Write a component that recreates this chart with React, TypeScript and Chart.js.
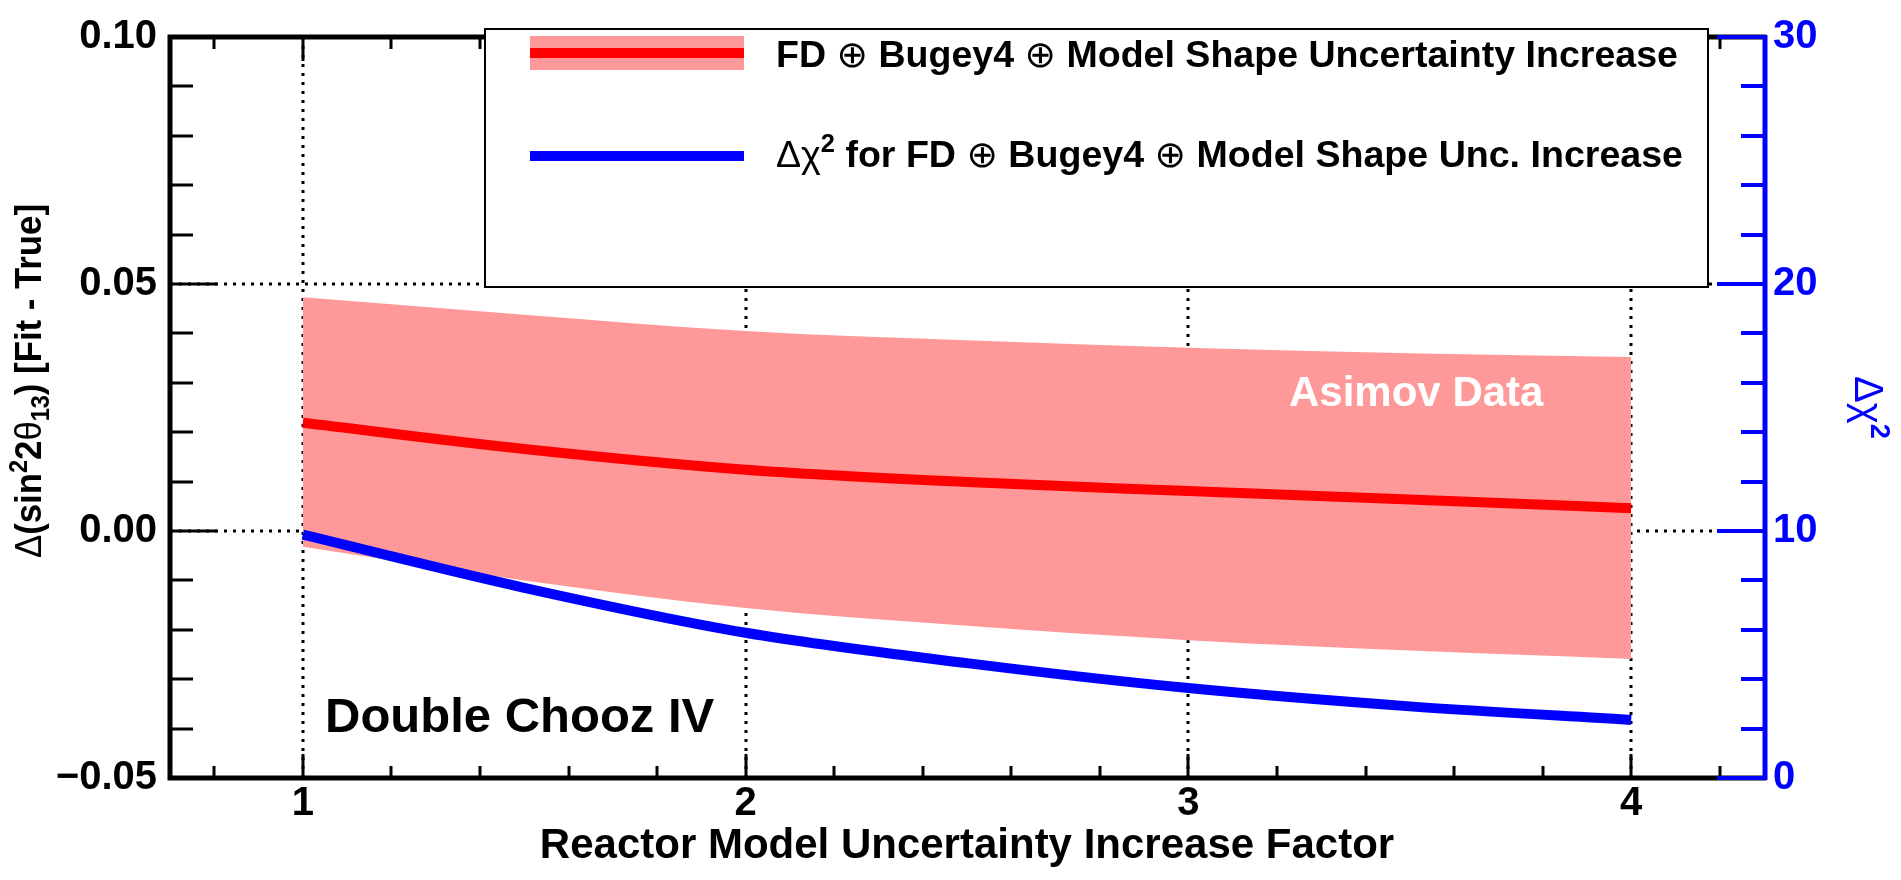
import React, { useEffect, useRef } from "react";
import { Chart, registerables } from "chart.js";

Chart.register(...registerables);

// Reactor model uncertainty increase factor (x) and fit results
const factor = [1, 1.5, 2, 2.5, 3, 3.5, 4];
const bestFitShift = [0.0219, 0.0166, 0.0124, 0.0099, 0.0081, 0.0064, 0.0046];
const bandUpper = [0.0473, 0.0438, 0.0405, 0.0386, 0.0371, 0.036, 0.0352];
const bandLower = [-0.0032, -0.01, -0.0156, -0.0192, -0.0221, -0.0242, -0.0259];
const deltaChi2 = [9.85, 7.7, 5.88, 4.65, 3.64, 2.9, 2.35];

// Axis ranges and labelled ticks
const xRange = [0.7, 4.3];
const xMajorTicks = [1, 2, 3, 4];
const yRange = [-0.05, 0.1];
const yMajorTicks = [-0.05, 0, 0.05, 0.1];
const y2Range = [0, 30];
const y2MajorTicks = [0, 10, 20, 30];

const xMinorStep = 0.2;
const yMinorStep = 0.01;
const y2MinorStep = 2;

const RED = "#ff0000";
const BAND = "rgb(255,153,153)";
const BLUE = "#0000ff";
const SANS = '"Liberation Sans", Arial, Helvetica, sans-serif';
const bold = (px: number) => `bold ${px}px ${SANS}`;
const reg = (px: number) => `${px}px ${SANS}`;
const sym = (px: number) => `${px}px "DejaVu Sans", ${SANS}`;

type Seg = { t: string; font: string; dy?: number };

function richWidth(ctx: CanvasRenderingContext2D, segs: Seg[]) {
  let w = 0;
  for (const s of segs) {
    ctx.font = s.font;
    w += ctx.measureText(s.t).width;
  }
  return w;
}

function drawRich(
  ctx: CanvasRenderingContext2D,
  segs: Seg[],
  x: number,
  y: number,
  color: string,
  rotation = 0,
  targetWidth?: number
) {
  const w = richWidth(ctx, segs);
  ctx.save();
  ctx.translate(x, y);
  if (rotation) ctx.rotate(rotation);
  if (targetWidth) ctx.scale(targetWidth / w, 1);
  ctx.fillStyle = color;
  ctx.textBaseline = "alphabetic";
  ctx.textAlign = "left";
  let cx = 0;
  for (const s of segs) {
    ctx.font = s.font;
    ctx.fillText(s.t, cx, s.dy || 0);
    cx += ctx.measureText(s.t).width;
  }
  ctx.restore();
}

function steps(min: number, max: number, step: number) {
  const out: number[] = [];
  const n = Math.round((max - min) / step);
  for (let i = 0; i <= n; i++) out.push(+(min + i * step).toFixed(6));
  return out;
}

const oplus = (px: number): Seg[] => [
  { t: " ", font: bold(px) },
  { t: "\u2295", font: sym(px) },
  { t: " ", font: bold(px) },
];

const rootStyle = {
  id: "rootStyle",
  beforeDatasetsDraw(chart: any) {
    const { ctx, chartArea: a, scales } = chart;
    const x = scales.x;
    const y = scales.y;
    ctx.save();
    ctx.strokeStyle = "#000";
    ctx.lineWidth = 3;
    ctx.setLineDash([3, 6]);
    for (const v of xMajorTicks) {
      const px = Math.round(x.getPixelForValue(v));
      ctx.beginPath();
      ctx.moveTo(px, a.top);
      ctx.lineTo(px, a.bottom);
      ctx.stroke();
    }
    for (const v of [0, 0.05]) {
      const py = Math.round(y.getPixelForValue(v));
      ctx.beginPath();
      ctx.moveTo(a.left, py);
      ctx.lineTo(a.right, py);
      ctx.stroke();
    }
    ctx.restore();
  },
  afterDatasetsDraw(chart: any) {
    const { ctx, chartArea: a, scales } = chart;
    const x = scales.x;
    const y = scales.y;
    const y2 = scales.y2;
    ctx.save();
    ctx.setLineDash([]);
    ctx.lineCap = "square";

    // frame
    ctx.strokeStyle = "#000";
    ctx.lineWidth = 5;
    ctx.beginPath();
    ctx.moveTo(a.right, a.top);
    ctx.lineTo(a.left, a.top);
    ctx.lineTo(a.left, a.bottom);
    ctx.lineTo(a.right, a.bottom);
    ctx.stroke();

    ctx.lineCap = "butt";
    // x ticks, bottom and top
    ctx.lineWidth = 3;
    for (const v of steps(0.8, 4.2, xMinorStep)) {
      const px = Math.round(x.getPixelForValue(v));
      const major = xMajorTicks.some((m) => Math.abs(m - v) < 1e-6);
      const len = major ? 24 : 12;
      ctx.beginPath();
      ctx.moveTo(px, a.bottom);
      ctx.lineTo(px, a.bottom - len);
      ctx.moveTo(px, a.top);
      ctx.lineTo(px, a.top + len);
      ctx.stroke();
    }
    // left y ticks
    for (const v of steps(yRange[0], yRange[1], yMinorStep)) {
      const py = Math.round(y.getPixelForValue(v));
      const major = yMajorTicks.some((m) => Math.abs(m - v) < 1e-6);
      const len = major ? 47 : 23;
      ctx.beginPath();
      ctx.moveTo(a.left, py);
      ctx.lineTo(a.left + len, py);
      ctx.stroke();
    }

    // right Δχ² axis
    ctx.strokeStyle = BLUE;
    ctx.lineWidth = 5;
    ctx.beginPath();
    ctx.moveTo(a.right + 1, a.top - 2);
    ctx.lineTo(a.right + 1, a.bottom + 2);
    ctx.stroke();
    ctx.lineWidth = 4;
    for (const v of steps(y2Range[0], y2Range[1], y2MinorStep)) {
      const py = Math.round(y2.getPixelForValue(v));
      const major = y2MajorTicks.some((m) => Math.abs(m - v) < 1e-6);
      const len = major ? 47 : 23;
      ctx.beginPath();
      ctx.moveTo(a.right, py);
      ctx.lineTo(a.right - len, py);
      ctx.stroke();
    }

    // legend
    const lx = 485, ly = 29, lw = 1223, lh = 258;
    ctx.fillStyle = "#fff";
    ctx.fillRect(lx, ly, lw, lh);
    ctx.strokeStyle = "#000";
    ctx.lineWidth = 2;
    ctx.strokeRect(lx, ly, lw, lh);
    ctx.fillStyle = BAND;
    ctx.fillRect(530, 36, 214, 34);
    ctx.fillStyle = RED;
    ctx.fillRect(530, 48, 214, 10);
    ctx.fillStyle = BLUE;
    ctx.fillRect(530, 151, 214, 10);

    const fs = 37;
    drawRich(
      ctx,
      [
        { t: "FD", font: bold(fs) },
        ...oplus(fs),
        { t: "Bugey4", font: bold(fs) },
        ...oplus(fs),
        { t: "Model Shape Uncertainty Increase", font: bold(fs) },
      ],
      776,
      67,
      "#000",
      0,
      902
    );
    drawRich(
      ctx,
      [
        { t: "\u0394\u03c7", font: reg(fs) },
        { t: "2", font: bold(25), dy: -15 },
        { t: " for FD", font: bold(fs) },
        ...oplus(fs),
        { t: "Bugey4", font: bold(fs) },
        ...oplus(fs),
        { t: "Model Shape Unc. Increase", font: bold(fs) },
      ],
      776,
      167,
      "#000",
      0,
      907
    );

    // axis titles
    drawRich(
      ctx,
      [
        { t: "\u0394", font: reg(37) },
        { t: "(sin", font: bold(37) },
        { t: "2", font: bold(25), dy: -14 },
        { t: "2", font: bold(37) },
        { t: "\u03b8", font: reg(37) },
        { t: "13", font: bold(25), dy: 8 },
        { t: ") [Fit - True]", font: bold(37) },
      ],
      41,
      558,
      "#000",
      -Math.PI / 2,
      354
    );
    drawRich(
      ctx,
      [
        { t: "\u0394\u03c7", font: reg(40) },
        { t: "2", font: bold(27), dy: -16 },
      ],
      1855,
      376,
      BLUE,
      Math.PI / 2
    );
    ctx.font = bold(42);
    ctx.fillStyle = "#000";
    ctx.textAlign = "center";
    ctx.textBaseline = "alphabetic";
    ctx.fillText("Reactor Model Uncertainty Increase Factor", (a.left + a.right) / 2, 858);

    // annotations
    ctx.textAlign = "left";
    ctx.font = bold(49);
    ctx.fillText("Double Chooz IV", 325, 732);
    ctx.fillStyle = "#fff";
    ctx.font = bold(42);
    ctx.fillText("Asimov Data", 1289, 406);
    ctx.restore();
  },
};

const tickFont = { family: SANS, size: 40, weight: "bold" as const };

export default function App() {
  const ref = useRef<HTMLCanvasElement>(null);

  useEffect(() => {
    if (!ref.current) return;
    const pts = (ys: number[]) => factor.map((x, i) => ({ x, y: ys[i] }));
    const smooth = { cubicInterpolationMode: "monotone" as const };
    const chart = new Chart(ref.current, {
      type: "line",
      data: {
        datasets: [
          {
            label: "band upper",
            data: pts(bandUpper),
            yAxisID: "y",
            borderWidth: 0,
            borderColor: "transparent",
            backgroundColor: BAND,
            pointRadius: 0,
            fill: "+1",
            ...smooth,
            order: 3,
          },
          {
            label: "band lower",
            data: pts(bandLower),
            yAxisID: "y",
            borderWidth: 0,
            borderColor: "transparent",
            pointRadius: 0,
            fill: false,
            ...smooth,
            order: 3,
          },
          {
            label: "FD ⊕ Bugey4 ⊕ Model Shape Uncertainty Increase",
            data: pts(bestFitShift),
            yAxisID: "y",
            borderColor: RED,
            borderWidth: 10,
            pointRadius: 0,
            fill: false,
            ...smooth,
            order: 1,
          },
          {
            label: "Δχ² for FD ⊕ Bugey4 ⊕ Model Shape Unc. Increase",
            data: pts(deltaChi2),
            yAxisID: "y2",
            borderColor: BLUE,
            borderWidth: 10,
            pointRadius: 0,
            fill: false,
            ...smooth,
            order: 0,
          },
        ],
      },
      options: {
        animation: false,
        responsive: false,
        devicePixelRatio: 1,
        layout: { padding: { top: 30, left: 0, right: 0, bottom: 0 } },
        plugins: {
          legend: { display: false },
          tooltip: { enabled: false },
        },
        scales: {
          x: {
            type: "linear",
            position: "bottom",
            min: xRange[0],
            max: xRange[1],
            grid: { display: false, drawTicks: false },
            border: { display: false },
            afterBuildTicks: (s: any) => {
              s.ticks = xMajorTicks.map((v) => ({ value: v }));
            },
            afterFit: (s: any) => {
              s.height = 102;
            },
            ticks: {
              font: tickFont,
              color: "#000",
              padding: 2,
              maxRotation: 0,
              autoSkip: false,
              callback: (v: any) => String(v),
            },
          },
          y: {
            type: "linear",
            position: "left",
            min: yRange[0],
            max: yRange[1],
            grid: { display: false, drawTicks: false },
            border: { display: false },
            afterBuildTicks: (s: any) => {
              s.ticks = yMajorTicks.map((v) => ({ value: v }));
            },
            afterFit: (s: any) => {
              s.width = 170;
            },
            ticks: {
              font: tickFont,
              color: "#000",
              padding: 13,
              autoSkip: false,
              callback: (v: any) =>
                v < 0 ? "\u2212" + Math.abs(v).toFixed(2) : Number(v).toFixed(2),
            },
          },
          y2: {
            type: "linear",
            position: "right",
            min: y2Range[0],
            max: y2Range[1],
            grid: { display: false, drawTicks: false },
            border: { display: false },
            afterBuildTicks: (s: any) => {
              s.ticks = y2MajorTicks.map((v) => ({ value: v }));
            },
            afterFit: (s: any) => {
              s.width = 137;
            },
            ticks: {
              font: tickFont,
              color: BLUE,
              padding: 9,
              autoSkip: false,
              callback: (v: any) => String(v),
            },
          },
        },
      },
      plugins: [rootStyle],
    });
    return () => chart.destroy();
  }, []);

  return (
    <div style={{ position: "fixed", left: 0, top: 0, width: 1901, height: 880, background: "#fff" }}>
      <canvas ref={ref} width={1901} height={880} style={{ display: "block" }} />
    </div>
  );
}
